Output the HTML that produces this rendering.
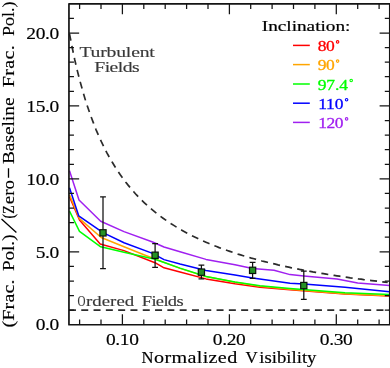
<!DOCTYPE html><html><head><meta charset="utf-8"><style>html,body{margin:0;padding:0;background:#fff;overflow:hidden}svg{display:block;will-change:transform}text{font-family:"Liberation Serif",serif}</style></head><body>
<svg width="390" height="368" viewBox="0 0 390 368">
<rect width="390" height="368" fill="#fff"/>
<g fill="none" stroke-width="1.5" stroke-linejoin="round">
<path d="M69.5,196.8 L79.5,219.9 L100.2,244.0 L124.0,250.6 L155.0,262.7 L164.0,267.8 L180.0,271.9 L206.0,278.9 L235.0,283.8 L260.0,287.3 L290.0,289.8 L345.0,293.9 L389.5,296.0" stroke="#ff0000"/>
<path d="M69.5,194.8 L79.5,218.6 L101.2,237.5 L124.0,246.8 L144.5,255.0 L180.0,268.4 L206.0,276.6 L235.0,282.2 L260.0,286.2 L290.0,289.2 L345.0,293.7 L389.5,295.8" stroke="#ffa500"/>
<path d="M69.5,211.2 L79.5,231.3 L100.7,246.8 L124.0,252.2 L155.0,259.2 L180.0,268.1 L206.0,276.5 L235.0,281.9 L260.0,285.7 L290.0,288.6 L345.0,292.7 L389.5,294.6" stroke="#00ff00"/>
<path d="M69.5,187.8 L78.7,215.8 L103.0,232.6 L124.0,242.7 L152.6,253.4 L164.0,259.6 L180.0,264.0 L206.0,270.5 L235.0,274.9 L252.6,278.0 L290.0,283.2 L303.8,283.9 L345.0,287.2 L389.5,291.7" stroke="#0000ff"/>
<path d="M69.5,170.7 L79.0,200.0 L100.7,221.3 L124.0,231.6 L152.6,242.0 L164.0,247.0 L180.0,251.8 L206.0,259.4 L235.0,264.7 L252.6,268.5 L274.0,270.2 L290.0,274.6 L303.8,276.1 L337.0,279.1 L357.7,283.0 L389.5,285.5" stroke="#a020f0"/>
</g>
<path d="M69.5,33.8 L72.2,47.5 L74.8,60.0 L77.5,71.4 L80.2,81.9 L82.9,91.5 L85.5,100.4 L88.2,108.6 L90.9,116.3 L93.6,123.4 L96.2,130.1 L98.9,136.3 L101.6,142.2 L104.3,147.7 L106.9,152.9 L109.6,157.7 L112.3,162.3 L115.0,166.7 L117.6,170.8 L120.3,174.8 L123.0,178.5 L125.6,182.0 L128.3,185.4 L131.0,188.6 L133.7,191.7 L136.3,194.7 L139.0,197.5 L141.7,200.2 L144.4,202.8 L147.0,205.2 L149.7,207.6 L152.4,209.9 L155.1,212.1 L157.7,214.2 L160.4,216.3 L163.1,218.2 L165.8,220.1 L168.4,221.9 L171.1,223.7 L173.8,225.4 L176.5,227.1 L179.1,228.7 L181.8,230.2 L184.5,231.7 L187.2,233.2 L189.8,234.6 L192.5,235.9 L195.2,237.2 L197.9,238.5 L200.5,239.8 L203.2,241.0 L205.9,242.2 L208.5,243.3 L211.2,244.4 L213.9,245.5 L216.6,246.5 L219.2,247.6 L221.9,248.6 L224.6,249.5 L227.3,250.5 L229.9,251.4 L232.6,252.3 L235.3,253.2 L238.0,254.1 L240.6,254.9 L243.3,255.7 L246.0,256.5 L248.7,257.3 L251.3,258.1 L254.0,258.8 L256.7,259.6 L259.4,260.3 L262.0,261.0 L264.7,261.6 L267.4,262.3 L270.1,263.0 L272.7,263.6 L275.4,264.2 L278.1,264.9 L280.8,265.5 L283.4,266.1 L286.1,266.6 L288.8,267.2 L291.5,267.8 L294.1,268.3 L296.8,268.8 L299.5,269.4 L302.1,269.9 L304.8,270.4 L307.5,270.9 L310.2,271.4 L312.8,271.9 L315.5,272.3 L318.2,272.8 L320.9,273.3 L323.5,273.7 L326.2,274.1 L328.9,274.6 L331.6,275.0 L334.2,275.4 L336.9,275.8 L339.6,276.2 L342.3,276.6 L344.9,277.0 L347.6,277.4 L350.3,277.8 L353.0,278.1 L355.6,278.5 L358.3,278.9 L361.0,279.2 L363.7,279.6 L366.3,279.9 L369.0,280.3 L371.7,280.6 L374.4,280.9 L377.0,281.2 L379.7,281.6 L382.4,281.9 L385.0,282.2 L387.7,282.5" fill="none" stroke="#2b2b2b" stroke-width="1.7" stroke-dasharray="7.0 5.3"/>
<path d="M68.95,310.1 L389.8,310.1" fill="none" stroke="#2b2b2b" stroke-width="1.7" stroke-dasharray="7.0 5.3"/>
<g stroke="#111" stroke-width="1.25" fill="none">
<path d="M103.0,196.8 V268.5 M100.1,196.8 H105.9 M100.1,268.5 H105.9"/>
<path d="M155.1,243.7 V267.3 M152.2,243.7 H158.0 M152.2,267.3 H158.0"/>
<path d="M201.4,265.1 V278.9 M198.5,265.1 H204.3 M198.5,278.9 H204.3"/>
<path d="M252.6,262.3 V278.3 M249.7,262.3 H255.5 M249.7,278.3 H255.5"/>
<path d="M303.8,271.2 V299.3 M300.90000000000003,271.2 H306.7 M300.90000000000003,299.3 H306.7"/>
</g>
<rect x="99.90" y="229.70" width="6.2" height="6.3" fill="#259225" stroke="#0a140a" stroke-width="1.2"/>
<rect x="152.00" y="252.10" width="6.2" height="6.3" fill="#259225" stroke="#0a140a" stroke-width="1.2"/>
<rect x="198.30" y="269.00" width="6.2" height="6.3" fill="#259225" stroke="#0a140a" stroke-width="1.2"/>
<rect x="249.50" y="267.20" width="6.2" height="6.3" fill="#259225" stroke="#0a140a" stroke-width="1.2"/>
<rect x="300.70" y="282.40" width="6.2" height="6.3" fill="#259225" stroke="#0a140a" stroke-width="1.2"/>
<path d="M79.6,324.75 v-5.3 M79.6,3.8 v5.3 M101.0,324.75 v-5.3 M101.0,3.8 v5.3 M122.4,324.75 v-10.5 M122.4,3.8 v10.5 M143.8,324.75 v-5.3 M143.8,3.8 v5.3 M165.2,324.75 v-5.3 M165.2,3.8 v5.3 M186.6,324.75 v-5.3 M186.6,3.8 v5.3 M208.0,324.75 v-5.3 M208.0,3.8 v5.3 M229.4,324.75 v-10.5 M229.4,3.8 v10.5 M250.7,324.75 v-5.3 M250.7,3.8 v5.3 M272.1,324.75 v-5.3 M272.1,3.8 v5.3 M293.5,324.75 v-5.3 M293.5,3.8 v5.3 M314.9,324.75 v-5.3 M314.9,3.8 v5.3 M336.3,324.75 v-10.5 M336.3,3.8 v10.5 M357.7,324.75 v-5.3 M357.7,3.8 v5.3 M379.1,324.75 v-5.3 M379.1,3.8 v5.3 M68.95,310.2 h5.0 M389.8,310.2 h-5.0 M68.95,295.6 h5.0 M389.8,295.6 h-5.0 M68.95,281.0 h5.0 M389.8,281.0 h-5.0 M68.95,266.4 h5.0 M389.8,266.4 h-5.0 M68.95,251.8 h10.2 M389.8,251.8 h-10.2 M68.95,237.2 h5.0 M389.8,237.2 h-5.0 M68.95,222.6 h5.0 M389.8,222.6 h-5.0 M68.95,208.0 h5.0 M389.8,208.0 h-5.0 M68.95,193.4 h5.0 M389.8,193.4 h-5.0 M68.95,178.9 h10.2 M389.8,178.9 h-10.2 M68.95,164.3 h5.0 M389.8,164.3 h-5.0 M68.95,149.7 h5.0 M389.8,149.7 h-5.0 M68.95,135.1 h5.0 M389.8,135.1 h-5.0 M68.95,120.5 h5.0 M389.8,120.5 h-5.0 M68.95,105.9 h10.2 M389.8,105.9 h-10.2 M68.95,91.3 h5.0 M389.8,91.3 h-5.0 M68.95,76.7 h5.0 M389.8,76.7 h-5.0 M68.95,62.1 h5.0 M389.8,62.1 h-5.0 M68.95,47.6 h5.0 M389.8,47.6 h-5.0 M68.95,33.0 h10.2 M389.8,33.0 h-10.2 M68.95,18.4 h5.0 M389.8,18.4 h-5.0" fill="none" stroke="#141414" stroke-width="1.25"/>
<path d="M68.95,3.8 H389.8 V324.75 H68.95 Z" fill="none" stroke="#141414" stroke-width="1.7" stroke-linejoin="round"/>
<text transform="translate(35.8,330.45) scale(1.180,1)" font-size="16.5" textLength="19.92" lengthAdjust="spacing" fill="#000" stroke="#000" stroke-width="0.15">0.0</text>
<text transform="translate(35.8,257.505) scale(1.180,1)" font-size="16.5" textLength="19.92" lengthAdjust="spacing" fill="#000" stroke="#000" stroke-width="0.15">5.0</text>
<text transform="translate(26.299999999999997,184.55999999999997) scale(1.180,1)" font-size="16.5" textLength="27.97" lengthAdjust="spacing" fill="#000" stroke="#000" stroke-width="0.15">10.0</text>
<text transform="translate(26.299999999999997,111.615) scale(1.180,1)" font-size="16.5" textLength="27.97" lengthAdjust="spacing" fill="#000" stroke="#000" stroke-width="0.15">15.0</text>
<text transform="translate(26.299999999999997,38.66999999999997) scale(1.180,1)" font-size="16.5" textLength="27.97" lengthAdjust="spacing" fill="#000" stroke="#000" stroke-width="0.15">20.0</text>
<text transform="translate(105.88500000000002,344.6) scale(1.180,1)" font-size="16.5" textLength="27.97" lengthAdjust="spacing" fill="#000" stroke="#000" stroke-width="0.15">0.10</text>
<text transform="translate(212.85500000000005,344.6) scale(1.180,1)" font-size="16.5" textLength="27.97" lengthAdjust="spacing" fill="#000" stroke="#000" stroke-width="0.15">0.20</text>
<text transform="translate(319.82500000000005,344.6) scale(1.180,1)" font-size="16.5" textLength="27.97" lengthAdjust="spacing" fill="#000" stroke="#000" stroke-width="0.15">0.30</text>
<text transform="translate(141.6,363.2) scale(1.007,1)" font-size="16.5" textLength="11.92" lengthAdjust="spacing" fill="#000" stroke="#000" stroke-width="0.15">N</text>
<text transform="translate(154.0,363.2) scale(1.220,1)" font-size="16.5" textLength="68.20" lengthAdjust="spacing" fill="#000" stroke="#000" stroke-width="0.15">ormalized</text>
<text transform="translate(245.5,363.2) scale(1.024,1)" font-size="16.5" textLength="11.92" lengthAdjust="spacing" fill="#000" stroke="#000" stroke-width="0.15">V</text>
<text transform="translate(259.3,363.2) scale(1.134,1)" font-size="16.5" textLength="50.42" lengthAdjust="spacing" fill="#000" stroke="#000" stroke-width="0.15">isibility</text>
<text transform="translate(13.6,327.6) rotate(-90) scale(1.220,1)" font-size="16.5" textLength="39.51" lengthAdjust="spacing" fill="#000" stroke="#000" stroke-width="0.15">(Frac.</text>
<text transform="translate(13.6,271.1) rotate(-90) scale(1.157,1)" font-size="16.5" textLength="31.63" lengthAdjust="spacing" fill="#000" stroke="#000" stroke-width="0.15">Pol.)</text>
<text transform="translate(13.6,164.1) rotate(-90) scale(1.174,1)" font-size="16.5" textLength="56.81" lengthAdjust="spacing" fill="#000" stroke="#000" stroke-width="0.15">Baseline</text>
<text transform="translate(13.6,87.2) rotate(-90) scale(1.220,1)" font-size="16.5" textLength="34.43" lengthAdjust="spacing" fill="#000" stroke="#000" stroke-width="0.15">Frac.</text>
<text transform="translate(13.6,36.1) rotate(-90) scale(1.091,1)" font-size="16.5" textLength="31.63" lengthAdjust="spacing" fill="#000" stroke="#000" stroke-width="0.15">Pol.)</text>
<text transform="translate(13.6,218.4) rotate(-90) scale(0.848,1)" font-size="16.5" textLength="15.57" lengthAdjust="spacing" fill="#000" stroke="#000" stroke-width="0.15">(Z</text>
<text transform="translate(13.6,204.2) rotate(-90) scale(1.149,1)" font-size="16.5" textLength="21.07" lengthAdjust="spacing" fill="#000" stroke="#000" stroke-width="0.15">ero</text>
<path d="M16.4,232.5 L1.5,219.0 M8.5,177.7 V168.2" stroke="#000" stroke-width="1.3" fill="none"/>
<text transform="translate(79.4,57.0) scale(1.280,1)" font-size="15.4" textLength="58.91" lengthAdjust="spacing" fill="#383838" stroke="#383838" stroke-width="0.15">Turbulent</text>
<text transform="translate(94.2,72.0) scale(1.280,1)" font-size="15.4" textLength="35.62" lengthAdjust="spacing" fill="#383838" stroke="#383838" stroke-width="0.15">Fields</text>
<text transform="translate(77.6,305.8) scale(0.719,1)" font-size="15.4" textLength="11.12" lengthAdjust="spacing" fill="#383838" stroke="#383838" stroke-width="0.15">O</text>
<text transform="translate(86.0,305.8) scale(1.220,1)" font-size="15.4" textLength="39.51" lengthAdjust="spacing" fill="#383838" stroke="#383838" stroke-width="0.15">rdered</text>
<text transform="translate(141.8,305.8) scale(1.200,1)" font-size="15.4" textLength="34.83" lengthAdjust="spacing" fill="#383838" stroke="#383838" stroke-width="0.15">Fields</text>
<text transform="translate(261.8,31.0) scale(1.250,1)" font-size="15.4" textLength="70.88" lengthAdjust="spacing" fill="#000" stroke="#000" stroke-width="0.22">Inclination:</text>
<path d="M293.0,45.4 H309.8" stroke="#ff0000" stroke-width="1.5"/>
<text transform="translate(317.7,50.9) scale(1.150,1)" font-size="15.2" textLength="14.78" lengthAdjust="spacing" fill="#ff0000" stroke="#ff0000" stroke-width="0.3">80</text>
<circle cx="337.6" cy="41.9" r="1.25" fill="none" stroke="#ff0000" stroke-width="1.1"/>
<path d="M293.0,64.6 H309.8" stroke="#ffa500" stroke-width="1.5"/>
<text transform="translate(317.7,70.1) scale(1.150,1)" font-size="15.2" textLength="14.78" lengthAdjust="spacing" fill="#ffa500" stroke="#ffa500" stroke-width="0.3">90</text>
<circle cx="337.6" cy="61.1" r="1.25" fill="none" stroke="#ffa500" stroke-width="1.1"/>
<path d="M293.0,84.0 H309.8" stroke="#00ff00" stroke-width="1.5"/>
<text transform="translate(317.7,89.5) scale(1.150,1)" font-size="15.2" textLength="26.26" lengthAdjust="spacing" fill="#00ff00" stroke="#00ff00" stroke-width="0.3">97.4</text>
<circle cx="351.2" cy="80.5" r="1.25" fill="none" stroke="#00ff00" stroke-width="1.1"/>
<path d="M293.0,103.2 H309.8" stroke="#0000ff" stroke-width="1.5"/>
<text transform="translate(318.2,108.7) scale(1.150,1)" font-size="15.2" textLength="21.91" lengthAdjust="spacing" fill="#0000ff" stroke="#0000ff" stroke-width="0.3">110</text>
<circle cx="346.6" cy="99.7" r="1.25" fill="none" stroke="#0000ff" stroke-width="1.1"/>
<path d="M293.0,122.4 H309.8" stroke="#a020f0" stroke-width="1.5"/>
<text transform="translate(318.2,127.9) scale(1.150,1)" font-size="15.2" textLength="21.91" lengthAdjust="spacing" fill="#a020f0" stroke="#a020f0" stroke-width="0.3">120</text>
<circle cx="346.6" cy="118.9" r="1.25" fill="none" stroke="#a020f0" stroke-width="1.1"/>
</svg></body></html>
